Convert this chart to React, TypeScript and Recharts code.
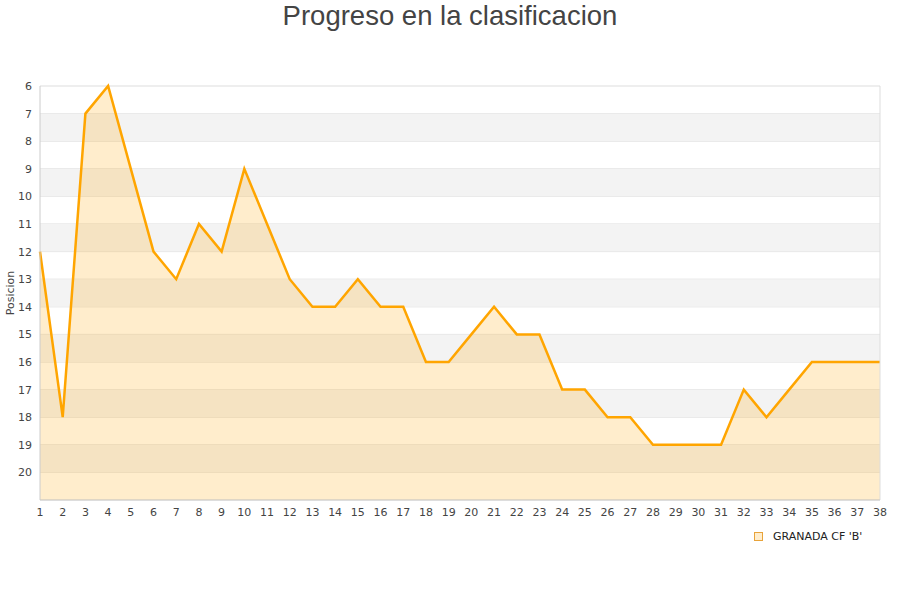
import React from 'react';
import { ComposedChart, Area, XAxis, YAxis, CartesianGrid, ReferenceArea, ReferenceLine, Label } from 'recharts';

const jornadas = [1,2,3,4,5,6,7,8,9,10,11,12,13,14,15,16,17,18,19,20,21,22,23,24,25,26,27,28,29,30,31,32,33,34,35,36,37,38];
const posiciones = [12,18,7,6,9,12,13,11,12,9,11,13,14,14,13,14,14,16,16,15,14,15,15,17,17,18,18,19,19,19,19,17,18,17,16,16,16,16];
const yTicks = [6,7,8,9,10,11,12,13,14,15,16,17,18,19,20];
const bands = [[7,8],[9,10],[11,12],[13,14],[15,16],[17,18],[19,20]];
const teamName = "GRANADA CF 'B'";
const title = 'Progreso en la clasificacion';

const data = jornadas.map((j, i) => ({ j, pos: posiciones[i] }));

const tickStyle = { fontFamily: 'DejaVu Sans', fontSize: 11, fill: '#444' };

export default function App() {
  return (
    <div style={{ position: 'absolute', left: 0, top: 0, width: 900, height: 600, background: '#fff' }}>
      <div style={{ position: 'absolute', left: 0, top: 0, width: 900, textAlign: 'center', fontFamily: 'Liberation Sans', fontSize: 27.5, color: '#444', lineHeight: '32px' }}>
        {title}
      </div>
      <ComposedChart width={900} height={600} data={data} margin={{ top: 86, right: 20, bottom: 70, left: 0 }}>
        {bands.map(([a, b]) => (
          <ReferenceArea key={a} y1={a} y2={b} fill="#f3f3f3" fillOpacity={1} stroke="none" ifOverflow="visible" />
        ))}
        <CartesianGrid vertical={false} stroke="#dddddd" strokeDasharray="" />
        <XAxis dataKey="j" type="number" domain={[1, 38]} ticks={jornadas} interval={0} tickLine={false} axisLine={{ stroke: '#ccc' }} tick={tickStyle} />
        <YAxis reversed type="number" domain={[6, 21]} ticks={yTicks} interval={0} width={40} tickLine={false} axisLine={{ stroke: '#ccc' }} tick={tickStyle}>
          <Label value="Posicion" angle={-90} position="insideLeft" offset={10} style={{ fontFamily: 'DejaVu Sans', fontSize: 11, fill: '#444', textAnchor: 'middle' }} />
        </YAxis>
        <ReferenceLine x={38} stroke="#dddddd" />
        <Area type="linear" dataKey="pos" baseValue={21} stroke="#FFA500" strokeWidth={2.5} fill="#FFA500" fillOpacity={0.2} dot={false} activeDot={false} isAnimationActive={false} />
      </ComposedChart>
      <div style={{ position: 'absolute', left: 754, top: 530, display: 'flex', alignItems: 'center', fontFamily: 'DejaVu Sans', fontSize: 11, color: '#222' }}>
        <span style={{ display: 'inline-block', width: 7, height: 7, border: '1px solid #E8A33A', background: '#FFEDCC', marginRight: 10 }} />
        <span>{teamName}</span>
      </div>
    </div>
  );
}
